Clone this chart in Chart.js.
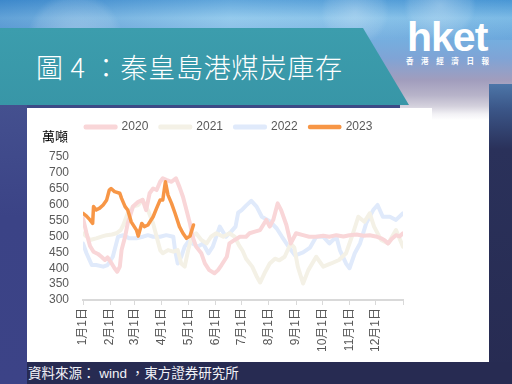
<!DOCTYPE html>
<html>
<head>
<meta charset="utf-8">
<script src="https://cdn.jsdelivr.net/npm/chart.js@4.4.0/dist/chart.umd.min.js"></script>
<style>
  html, body { margin:0; padding:0; background:#fff; }
  body { width:512px; height:384px; position:relative; overflow:hidden; font-family:'Liberation Sans','Noto Sans CJK TC',sans-serif; }
  .abs { position:absolute; }
  #sky { left:0; top:0; width:512px; height:130px;
    background: linear-gradient(180deg, #4d9bd7 0px, #86c3ea 18px, #74afe0 38px, #7fa4d6 58px, #a19dbd 80px, #b7b3c9 95px, #d3d0dc 106px, #f2f1f5 114px, #ffffff 120px);
  }
  #skytint { left:0; top:0; width:512px; height:40px;
    background:
      radial-gradient(circle at 75px 40px, rgba(255,255,255,0.28) 0, rgba(255,255,255,0.10) 40px, rgba(255,255,255,0) 48px),
      radial-gradient(circle at 355px 12px, rgba(255,255,255,0.25) 0, rgba(255,255,255,0.08) 28px, rgba(255,255,255,0) 34px),
      radial-gradient(circle at 440px 5px, rgba(255,255,255,0.30) 0, rgba(255,255,255,0.10) 30px, rgba(255,255,255,0) 36px),
      linear-gradient(90deg, rgba(30,100,180,0.35) 0, rgba(255,255,255,0.12) 45%, rgba(40,110,190,0.10) 100%);
  }
  #banner { left:0; top:28px; width:410px; height:77px; background:linear-gradient(180deg,#3c9dad,#3896a7);
    clip-path: polygon(0 0, 363px 0, 409px 77px, 0 77px); }
  #strip { left:0; top:105px; width:400px; height:3px; background:#3d4a86; }
  #leftcol { left:0; top:105px; width:27px; height:279px; background:linear-gradient(180deg,#44508f,#3b4386 40%,#3c4387); }
  #rightcol { left:489px; top:84px; width:23px; height:300px; background:linear-gradient(180deg,#4d76a8 0,#3b5688 25px,#2a315a 65px,#272b52 100%); }
  #bottom { left:27px; top:362px; width:485px; height:22px; background:#272b52; }
  #panel { left:27px; top:108px; width:405px; height:254px; background:#fff; }
  #panel2 { left:432px; top:121px; width:57px; height:241px; background:#fff; }
  #title { left:36px; top:52px; font-size:27px; line-height:30px; color:#fff; white-space:pre; letter-spacing:0.8px;
    font-family:'Noto Sans CJK TC','Noto Sans CJK SC',sans-serif; font-weight:300; }
  #logo { left:407px; top:17px; font-size:41px; line-height:41px; color:#fff; font-weight:bold; letter-spacing:-1px; font-family:'Liberation Sans',Arial,sans-serif; }
  #logosub { left:406px; top:57px; font-size:7.5px; line-height:8px; color:#fff; letter-spacing:7.6px; white-space:nowrap; font-family:'Noto Sans CJK TC',sans-serif; font-weight:bold; }
  #unit { left:42px; top:129px; font-size:13px; line-height:13px; color:#000; font-family:'Noto Sans CJK TC',sans-serif; }
  #source { left:28px; top:365px; font-size:13.5px; line-height:17px; color:#f2f2f7; white-space:pre; font-family:'Liberation Sans','Noto Sans CJK TC',sans-serif; }
  #wrap { left:28px; top:108px; width:404px; height:254px; }
</style>
</head>
<body>
<div id="sky" class="abs"></div>
<div id="skytint" class="abs"></div>
<div id="banner" class="abs"></div>
<div id="strip" class="abs"></div>
<div id="leftcol" class="abs"></div>
<div id="rightcol" class="abs"></div>
<div id="bottom" class="abs"></div>
<div id="panel" class="abs"></div>
<div id="panel2" class="abs"></div>
<div id="title" class="abs">圖 4 ：秦皇島港煤炭庫存</div>
<div id="logo" class="abs">hket</div>
<div id="logosub" class="abs">香港經濟日報</div>
<div id="wrap" class="abs"><canvas id="c" width="404" height="254"></canvas></div>
<div id="unit" class="abs">萬噸</div>
<div id="source" class="abs">資料來源： wind ，東方證券研究所</div>
<script>
const seriesNames = ['2020', '2021', '2022', '2023'];
const monthLabels = ['1月1日','2月1日','3月1日','4月1日','5月1日','6月1日','7月1日','8月1日','9月1日','10月1日','11月1日','12月1日'];
const monthStartDays = [0,31,59,90,120,151,181,212,243,273,304,334,365];
const yTicks = { min: 300, max: 750, step: 50 };

const days2020 = [0,4,8,12,17,21,25,28,32,36,39,42,44,48,51,57,63,68,72,76,80,84,88,91,95,101,106,110,114,118,122,125,129,135,139,144,150,154,158,164,167,173,179,186,190,196,202,209,213,217,222,226,232,237,243,251,258,266,274,281,289,297,304,312,320,327,334,340,344,348,352,357,361,365];
const values2020 = [557,510,470,452,445,436,426,434,418,400,389,405,457,499,541,594,609,615,583,636,651,646,672,683,678,672,683,656,625,583,541,499,468,447,415,394,384,394,410,436,478,489,499,499,510,515,520,552,531,552,604,583,536,478,510,504,499,499,502,499,504,500,504,506,502,504,500,494,488,478,492,504,500,510];

const days2021 = [0,4,8,15,22,27,33,38,43,46,51,57,63,68,74,80,84,88,91,97,103,108,112,116,120,124,129,135,141,146,152,160,167,173,178,182,186,193,198,202,207,213,219,224,230,237,241,245,251,257,266,274,283,292,300,308,314,321,327,332,340,348,357,365];
const values2021 = [510,500,489,494,500,504,506,510,520,536,573,594,599,615,583,541,499,457,447,457,452,457,415,405,457,499,510,489,478,499,510,499,510,499,472,455,430,405,375,355,384,415,430,425,436,478,465,405,352,394,436,405,415,426,447,510,562,546,573,531,489,478,520,468];

const days2022 = [0,4,10,15,23,28,34,40,46,53,61,68,74,80,88,95,103,105,108,112,116,120,125,131,137,143,148,156,163,169,174,177,181,186,192,198,204,213,221,227,236,242,251,259,266,274,281,289,293,300,304,310,316,323,331,336,342,350,357,365];
const values2022 = [478,447,410,410,405,410,436,499,504,494,494,499,504,499,499,504,499,457,415,436,468,484,478,468,478,447,468,531,499,515,531,575,583,597,612,594,562,548,525,499,462,440,450,465,499,499,478,499,457,415,400,447,478,541,583,599,562,562,552,573];

const days2023 = [0,4,8,11,12,15,19,23,27,30,32,36,42,44,48,51,55,61,63,67,70,74,80,84,88,91,94,97,101,105,110,114,118,122,126];
const values2023 = [573,564,552,541,594,583,589,599,615,646,651,641,636,620,594,583,546,520,501,541,531,536,562,589,615,615,672,630,604,573,531,510,494,501,536];

function pts(d, v) { return d.map((x, i) => ({ x: x, y: v[i] })); }

const fontFamily = "'Liberation Sans','Noto Sans CJK TC',sans-serif";
const colors = ['#f9d6d8', '#f4f1e6', '#e0eafb', '#f79646'];
const allDays = [days2020, days2021, days2022, days2023];
const allVals = [values2020, values2021, values2022, values2023];

const datasets = seriesNames.map((name, i) => ({
  label: name,
  data: pts(allDays[i], allVals[i]),
  borderColor: colors[i],
  backgroundColor: colors[i],
  borderWidth: i === 3 ? 3.5 : 4,
  pointRadius: 0,
  tension: 0,
  fill: false,
  borderJoinStyle: 'round',
  borderCapStyle: 'round',
  order: i === 3 ? 0 : 1
}));

const legendTweak = {
  id: 'legendTweak',
  beforeInit(chart) {
    const orig = chart.legend.fit;
    chart.legend.fit = function () { orig.bind(chart.legend)(); this.height = 48; };
  },
  afterLayout(chart) {
    chart.legend.left = 27;
  }
};

new Chart(document.getElementById('c'), {
  type: 'line',
  data: { datasets },
  plugins: [legendTweak],
  options: {
    responsive: false,
    animation: false,
    events: [],
    layout: { padding: { left: 0, right: 29, top: 1, bottom: 0 } },
    plugins: {
      legend: {
        position: 'top',
        labels: {
          boxWidth: 30, boxHeight: 1, padding: 12, color: '#595959', font: { size: 12, family: fontFamily },
          sort: (a, b) => a.datasetIndex - b.datasetIndex
        }
      },
      tooltip: { enabled: false }
    },
    scales: {
      x: {
        type: 'linear', min: 0, max: 365,
        afterBuildTicks: s => { s.ticks = monthStartDays.map(v => ({ value: v })); },
        afterFit: s => { s.height = 62; },
        ticks: {
          autoSkip: false, minRotation: 90, maxRotation: 90, padding: 3,
          color: '#595959', font: { size: 12, family: fontFamily },
          callback: (v, i) => (monthLabels[i] !== undefined ? monthLabels[i] : '')
        },
        grid: { display: true, drawOnChartArea: false, drawTicks: true, tickLength: 5, color: '#d9d9d9', lineWidth: 1 },
        border: { display: true, color: '#d9d9d9', width: 2 }
      },
      y: {
        min: yTicks.min, max: yTicks.max,
        afterFit: s => { s.width = 55; },
        ticks: { autoSkip: false, stepSize: yTicks.step, padding: 14, color: '#595959', font: { size: 12, family: fontFamily } },
        grid: { display: false, drawTicks: false },
        border: { display: false }
      }
    }
  }
});
</script>
</body>
</html>
